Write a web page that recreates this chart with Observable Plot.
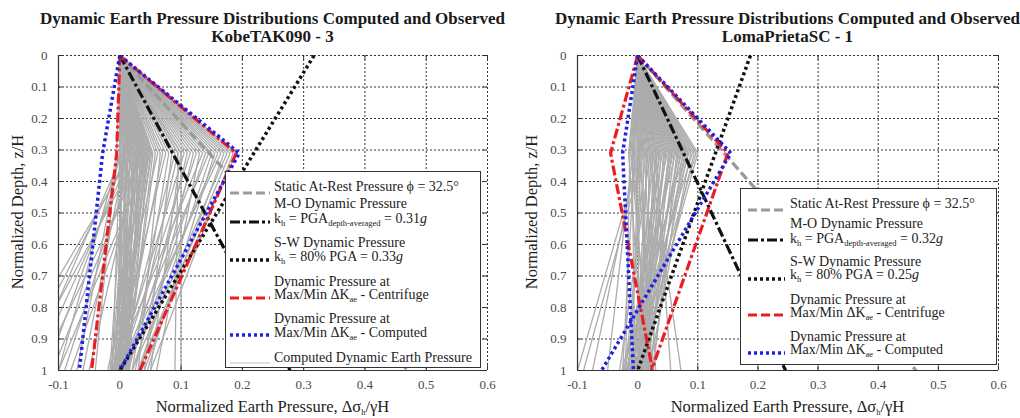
<!DOCTYPE html>
<html><head><meta charset="utf-8">
<script src="https://cdn.jsdelivr.net/npm/d3@7"></script>
<script src="https://cdn.jsdelivr.net/npm/@observablehq/plot@0.6"></script>
<style>
html,body{margin:0;padding:0;background:#fff}
body{width:1020px;height:418px;overflow:hidden;position:relative;font-family:"Liberation Serif",Tinos,"Times New Roman",Times,"DejaVu Serif",serif}
.panel{position:absolute;top:0;width:510px;height:418px}
.title{position:absolute;top:10px;font-weight:bold;font-size:17px;line-height:18px;text-align:center;color:#1a1a1a;white-space:nowrap;z-index:3}
.chart{position:absolute;top:40px;left:0;z-index:1}
.xtitle{position:absolute;top:398px;font-size:16.5px;line-height:18px;color:#222;text-align:center;white-space:nowrap;z-index:3}
.ytitle{position:absolute;font-size:16.5px;line-height:18px;color:#222;white-space:nowrap;transform:translate(-50%,-50%) rotate(-90deg);z-index:3}
.legend{position:absolute;background:#fff;border:1.5px solid #333;box-sizing:border-box;z-index:2}
.lt{position:absolute;font-size:14px;line-height:14px;color:#222;white-space:nowrap}
.ls{position:absolute;overflow:visible}
sub{font-size:8.5px;vertical-align:-3px;line-height:0}
</style></head><body>
<script>
// ---------- shared axes ----------
const xTicks = [-0.1, 0, 0.1, 0.2, 0.3, 0.4, 0.5, 0.6];
const yTicks = [0, 0.1, 0.2, 0.3, 0.4, 0.5, 0.6, 0.7, 0.8, 0.9, 1];
const lineDepths = [0, 1];          // depths for linear analytical profiles
const nodeDepths = [0, 0.31, 1];    // depths for measured / computed profiles

// ---------- Left panel: KobeTAK090 - 3 ----------
const kobeTitle = ["Dynamic Earth Pressure Distributions Computed and Observed", "KobeTAK090 - 3"];
const kobeStatic = [0, 0.47];
const kobeMO = [0, 0.278];
const kobeSW = [0.317, 0];
const kobeCentMax = [0, 0.19, 0.033];
const kobeCentMin = [0, -0.005, -0.046];
const kobeCompMax = [0, 0.195, 0];
const kobeCompMin = [0, -0.028, -0.066];
const kobeGrayMid = [
  0,0.002,0.004,0.006,0.008,0.01,0.012,0.014,0.016,0.018,0.02,0.022,0.024,0.026,0.028,0.03,0.032,0.034,0.036,0.038,
  0.04,0.042,0.044,0.046,0.048,0.05,0.052,0.054,0.001,0.005,0.009,0.013,0.017,0.021,0.025,0.029,0.033,0.037,0.041,0.045,
  0.058,0.062,0.066,0.07,0.075,0.08,0.085,0.09,0.095,0.1,0.105,0.11,0.115,0.12,0.125,0.13,0.135,0.14,0.145,0.15,
  0.155,0.16,0.165,0.17,0.175,0.18,0.185,0.19,0.095,0.1,
  0.0,0.005,0.01,0.015,0.02,0.025,0.03,0.035,0.04,0.045,0.0,0.01,0.02,0.03,-0.005,0.05];
const kobeGrayBase = [
  -0.012,0.004,-0.006,0.01,-0.016,0.002,0.012,-0.008,0.006,-0.002,0.014,-0.01,0.008,0.0,-0.004,0.016,-0.014,0.01,-0.006,0.003,
  -0.011,0.007,-0.001,0.013,-0.009,0.005,-0.003,0.011,0.0,-0.007,0.009,-0.013,0.001,0.015,-0.005,0.006,-0.015,0.008,-0.002,0.004,
  0.01,-0.02,0.03,0.0,-0.01,0.02,0.04,0.0,0.015,0.05,-0.005,0.025,0.0,0.035,0.01,0.06,-0.01,0.02,0.0,0.03,
  0.045,0.01,0.0,0.04,0.02,0.03,0.05,0.03,0.09,0.1,
  -0.1,-0.15,-0.12,-0.17,-0.14,-0.09,-0.16,-0.11,-0.13,-0.08,-0.07,-0.06,-0.19,-0.05,-0.04,-0.1];

// ---------- Right panel: LomaPrietaSC - 1 ----------
const lomaTitle = ["Dynamic Earth Pressure Distributions Computed and Observed", "LomaPrietaSC - 1"];
const lomaStatic = [0, 0.463];
const lomaMO = [0, 0.246];
const lomaSW = [0.1875, 0];
const lomaCentMax = [0, 0.15, 0.023];
const lomaCentMin = [0, -0.045, 0.025];
const lomaCompMax = [0, 0.155, -0.06];
const lomaCompMin = [0, -0.025, -0.007];
const lomaGrayMid = [
  -0.015,-0.013,-0.011,-0.009,-0.007,-0.005,-0.003,-0.001,0.001,0.003,0.005,0.007,0.009,0.011,0.013,0.015,0.017,0.019,0.021,0.023,
  0.025,0.027,0.029,0.031,0.033,0.035,0.037,0.039,0.041,0.043,0.045,0.047,0.049,0.051,0.053,0.055,0.057,0.059,0.061,0.063,
  0.065,0.067,0.069,0.071,0.073,0.075,0.077,0.079,0.081,0.083,0.085,0.088,0.091,0.094,0.097,0.1,
  0.005,0.0,-0.008,0.02,0.03,0.01];
const lomaGrayBase = [
  0.01,-0.02,0.02,-0.005,0.015,-0.025,0.005,0.025,-0.01,0.0,0.02,-0.015,0.01,0.03,-0.02,0.005,-0.005,0.015,-0.03,0.0,
  0.02,-0.01,0.01,0.0,-0.008,0.008,-0.012,0.012,-0.018,0.018,-0.002,0.002,-0.022,0.022,0.0,-0.004,0.004,-0.016,0.016,-0.026,
  0.026,0.006,-0.006,0.014,-0.014,0.024,-0.024,0.003,-0.003,0.011,-0.011,0.019,-0.019,0.007,-0.007,0.0,
  -0.1,-0.075,-0.05,0.072,0.055,-0.09];

// ---------- legend texts ----------
const legendTextsKobe = [
  ["Static At-Rest Pressure \u03D5 = 32.5\u00B0"],
  ["M-O Dynamic Pressure", "k<sub>h</sub> = PGA<sub>depth-averaged</sub> = 0.31<i>g</i>"],
  ["S-W Dynamic Pressure", "k<sub>h</sub> = 80% PGA = 0.33<i>g</i>"],
  ["Dynamic Pressure at", "Max/Min \u0394K<sub>ae</sub> - Centrifuge"],
  ["Dynamic Pressure at", "Max/Min \u0394K<sub>ae</sub> - Computed"],
  ["Computed Dynamic Earth Pressure"]
];
const legendTextsLoma = [
  ["Static At-Rest Pressure \u03D5 = 32.5\u00B0"],
  ["M-O Dynamic Pressure", "k<sub>h</sub> = PGA<sub>depth-averaged</sub> = 0.32<i>g</i>"],
  ["S-W Dynamic Pressure", "k<sub>h</sub> = 80% PGA = 0.25<i>g</i>"],
  ["Dynamic Pressure at", "Max/Min \u0394K<sub>ae</sub> - Centrifuge"],
  ["Dynamic Pressure at", "Max/Min \u0394K<sub>ae</sub> - Computed"]
];
const xTitle = "Normalized Earth Pressure, \u0394\u03C3<sub>h</sub>/\u03B3H";
const yTitle = "Normalized Depth, z/H";

// ---------- styles ----------
const ST = {
  static: {stroke:"#9a9a9a", w:3.2, dash:"9,4"},
  mo:     {stroke:"#111", w:3.2, dash:"10,3,3,3"},
  sw:     {stroke:"#111", w:3.5, dash:"3,3"},
  cent:   {stroke:"#ec1c24", w:3.2, dash:"10,3,3,3"},
  centLeg:{stroke:"#ec1c24", w:3.2, dash:"9,4"},
  comp:   {stroke:"#1f1fe6", w:3.5, dash:"3,3"},
  gray:   {stroke:"#acacac", w:1.3, dash:null},
  grayLeg:{stroke:"#c4c4c4", w:1.2, dash:null}
};
const SERIF = "'Liberation Serif', Tinos, 'Times New Roman', Times, 'DejaVu Serif', serif";

function rows(series, depths, xs) { return xs.map((x, i) => ({series, x, z: depths[i]})); }

function makePlot(d, mL, mR) {
  const gray = [];
  const n = Math.min(d.grayMid.length, d.grayBase.length);
  for (let i = 0; i < n; i++) gray.push(...rows("g" + i, nodeDepths, [0, d.grayMid[i], d.grayBase[i]]));
  const cent = [...rows("max", nodeDepths, d.centMax), ...rows("min", nodeDepths, d.centMin)];
  const comp = [...rows("max", nodeDepths, d.compMax), ...rows("min", nodeDepths, d.compMin)];
  const L = (data, s) => Plot.line(data, {x:"x", y:"z", z:"series", stroke:s.stroke, strokeWidth:s.w,
    strokeDasharray:s.dash || undefined, strokeLinecap:"butt", strokeLinejoin:"miter", clip:true});
  return Plot.plot({
    width: 510, height: 378, marginLeft: mL, marginRight: mR, marginTop: 15, marginBottom: 48,
    x: {domain: [-0.1, 0.6]},
    y: {domain: [0, 1], reverse: true},
    style: {fontFamily: SERIF, fontSize: "13px", color: "#4a4a4a", background: "transparent", overflow: "visible"},
    marks: [
      Plot.gridX(xTicks, {stroke: "#000", strokeOpacity: 0.8, strokeDasharray: "2,2"}),
      Plot.gridY(yTicks, {stroke: "#000", strokeOpacity: 0.8, strokeDasharray: "2,2"}),
      L(gray, ST.gray),
      L(rows("s", lineDepths, d.static), ST.static),
      L(rows("m", lineDepths, d.mo), ST.mo),
      L(rows("w", lineDepths, d.sw), ST.sw),
      L(cent, ST.cent),
      L(comp, ST.comp),
      Plot.ruleX([-0.1], {stroke: "#333", strokeWidth: 1.2}),
      Plot.ruleY([1], {stroke: "#333", strokeWidth: 1.2}),
      Plot.ruleX(xTicks, {y1: 1, y2: 0.985, stroke: "#333"}),
      Plot.ruleX(xTicks, {y1: 0, y2: 0.015, stroke: "#333"}),
      Plot.ruleY(yTicks, {x1: -0.1, x2: -0.093, stroke: "#333"}),
      Plot.ruleY(yTicks, {x1: 0.6, x2: 0.593, stroke: "#333"}),
      Plot.axisX(xTicks, {tickSize: 0, tickPadding: 9, tickFormat: v => String(v), label: null}),
      Plot.axisY(yTicks, {tickSize: 0, tickPadding: 11, tickFormat: v => String(v), label: null})
    ]
  });
}

function sample(s, w) {
  return `<svg width="${w}" height="8" style="overflow:visible"><line x1="0" y1="4" x2="${w}" y2="4" stroke="${s.stroke}" stroke-width="${s.w}" ${s.dash ? `stroke-dasharray="${s.dash}"` : ""}/></svg>`;
}

function makeLegend(box, texts, layout) {
  const lg = document.createElement("div");
  lg.className = "legend";
  Object.assign(lg.style, {left: box.x + "px", top: box.y + "px", width: box.w + "px", height: box.h + "px"});
  const kinds = [ST.static, ST.mo, ST.sw, ST.centLeg, ST.comp, ST.grayLeg];
  texts.forEach((lines, i) => {
    const lay = layout[i];
    const s = document.createElement("div");
    s.className = "ls";
    s.style.left = box.sx + "px"; s.style.top = (lay.s - 4) + "px";
    s.innerHTML = sample(kinds[i], box.sw);
    lg.appendChild(s);
    lines.forEach((t, j) => {
      const e = document.createElement("div");
      e.className = "lt";
      e.style.left = box.tx + "px"; e.style.top = (lay.t[j] - 7) + "px";
      e.innerHTML = t;
      lg.appendChild(e);
    });
  });
  return lg;
}

function makePanel(left, d) {
  const p = document.createElement("div");
  p.className = "panel"; p.style.left = left + "px";
  const plotCenter = d.mL + (510 - d.mL - d.mR) / 2;
  const t = document.createElement("div");
  t.className = "title";
  t.style.left = (plotCenter - 300) + "px"; t.style.width = "600px";
  t.innerHTML = d.title.join("<br>");
  p.appendChild(t);
  const c = document.createElement("div");
  c.className = "chart";
  c.appendChild(makePlot(d, d.mL, d.mR));
  p.appendChild(c);
  const xt = document.createElement("div");
  xt.className = "xtitle";
  xt.style.left = (plotCenter - 200) + "px"; xt.style.width = "400px";
  xt.innerHTML = xTitle;
  p.appendChild(xt);
  const yt = document.createElement("div");
  yt.className = "ytitle";
  yt.style.left = d.yTitleX + "px"; yt.style.top = "212px";
  yt.textContent = yTitle;
  p.appendChild(yt);
  p.appendChild(makeLegend(d.legendBox, d.legendTexts, d.legendLayout));
  document.body.appendChild(p);
}

makePanel(0, {
  title: kobeTitle, mL: 58, mR: 23, yTitleX: 18,
  static: kobeStatic, mo: kobeMO, sw: kobeSW,
  centMax: kobeCentMax, centMin: kobeCentMin, compMax: kobeCompMax, compMin: kobeCompMin,
  grayMid: kobeGrayMid, grayBase: kobeGrayBase,
  legendTexts: legendTextsKobe,
  legendBox: {x: 225, y: 171, w: 256, h: 197, sx: 4, sw: 40, tx: 48},
  legendLayout: [{s:15,t:[15]},{s:44,t:[32,47]},{s:82,t:[71,85]},{s:120,t:[110,123]},{s:157,t:[147,161]},{s:185,t:[186]}]
});
makePanel(510, {
  title: lomaTitle, mL: 67, mR: 22, yTitleX: 22,
  static: lomaStatic, mo: lomaMO, sw: lomaSW,
  centMax: lomaCentMax, centMin: lomaCentMin, compMax: lomaCompMax, compMin: lomaCompMin,
  grayMid: lomaGrayMid, grayBase: lomaGrayBase,
  legendTexts: legendTextsLoma,
  legendBox: {x: 230, y: 188, w: 257, h: 177, sx: 7, sw: 37, tx: 49},
  legendLayout: [{s:15,t:[15]},{s:45,t:[35,50]},{s:84,t:[73,86]},{s:120,t:[111,124]},{s:158,t:[148,161]}]
});
</script></body></html>
